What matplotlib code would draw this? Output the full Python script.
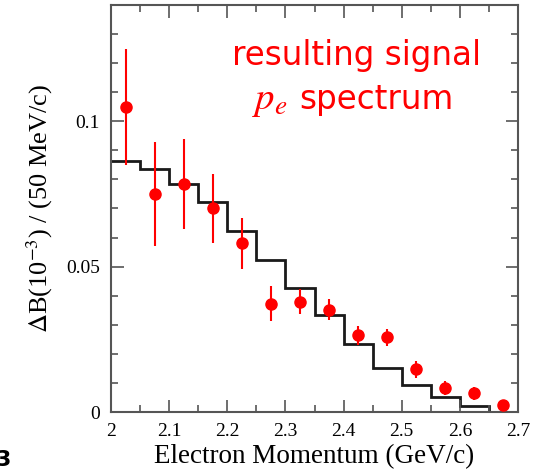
import matplotlib
matplotlib.use("Agg")
import matplotlib.pyplot as plt
from matplotlib.ticker import MultipleLocator
import numpy as np

plt.rcParams['mathtext.fontset'] = 'stix'

# data
x_centers = [2.025, 2.075, 2.125, 2.175, 2.225, 2.275, 2.325, 2.375, 2.425, 2.475, 2.525, 2.575, 2.625, 2.675]
y_data = [0.105, 0.075, 0.0784, 0.070, 0.058, 0.0373, 0.038, 0.0352, 0.0264, 0.0257, 0.0147, 0.0082, 0.0065, 0.0024]
y_err = [0.020, 0.018, 0.0155, 0.012, 0.0088, 0.006, 0.0042, 0.0035, 0.0032, 0.003, 0.003, 0.0025, 0.0022, 0.001]
hist_edges = [2.0, 2.05, 2.1, 2.15, 2.2, 2.25, 2.3, 2.35, 2.4, 2.45, 2.5, 2.55, 2.6, 2.65, 2.7]
hist_values = [0.0863, 0.0836, 0.0784, 0.0723, 0.0623, 0.0524, 0.0425, 0.0332, 0.0233, 0.0151, 0.0092, 0.0051, 0.0021, 0.0]
x_ticks = [2.0, 2.1, 2.2, 2.3, 2.4, 2.5, 2.6, 2.7]
x_tick_labels = ['2', '2.1', '2.2', '2.3', '2.4', '2.5', '2.6', '2.7']
y_ticks = [0.0, 0.05, 0.1]
y_tick_labels = ['0', '0.05', '0.1']

fig = plt.figure(figsize=(5.39, 4.75), dpi=100)
ax = fig.add_axes([0.206, 0.1326, 0.755, 0.857])

ax.stairs(hist_values, hist_edges, color='#1a1a1a', lw=2.0, baseline=None)
ax.errorbar(x_centers, y_data, yerr=y_err, fmt='o', color='#ff0000', ms=8,
            elinewidth=1.5, capsize=0, zorder=3)

ax.set_xlim(2.0, 2.7)
ax.set_ylim(0, 0.14)
ax.set_xticks(x_ticks)
ax.set_xticklabels(x_tick_labels, family='Liberation Serif', fontsize=14)
ax.set_yticks(y_ticks)
ax.set_yticklabels(y_tick_labels, family='Liberation Serif', fontsize=14)
ax.xaxis.set_minor_locator(MultipleLocator(0.05))
ax.yaxis.set_minor_locator(MultipleLocator(0.01))
ax.tick_params(which='both', direction='in', top=True, right=True, color='#555555', width=1.2)
ax.tick_params(which='major', length=9, pad=8)
ax.tick_params(which='minor', length=5)
for s in ax.spines.values():
    s.set_color('#555555')
    s.set_linewidth(1.5)

ax.set_xlabel('Electron Momentum (GeV/c)', family='Liberation Serif', fontsize=19.5, labelpad=3)
ax.set_ylabel(r'$\Delta$B(10$^{-3}$) / (50 MeV/c)', family='Liberation Serif', fontsize=19, labelpad=8)

ax.text(0.604, 0.877, 'resulting signal', transform=ax.transAxes, ha='center', va='center',
        color='#ff0000', fontsize=23.5, family='DejaVu Sans')
ax.text(0.463, 0.767, 'spectrum', transform=ax.transAxes, ha='left', va='center',
        color='#ff0000', fontsize=23.5, family='DejaVu Sans')
ax.text(0.435, 0.767, r'$p_e$', transform=ax.transAxes, ha='right', va='center',
        color='#ff0000', fontsize=28)

fig.text(-0.008, 0.02, '3', fontsize=16, fontweight='bold', color='black', family='DejaVu Sans')

fig.savefig('out.png', dpi=100)
